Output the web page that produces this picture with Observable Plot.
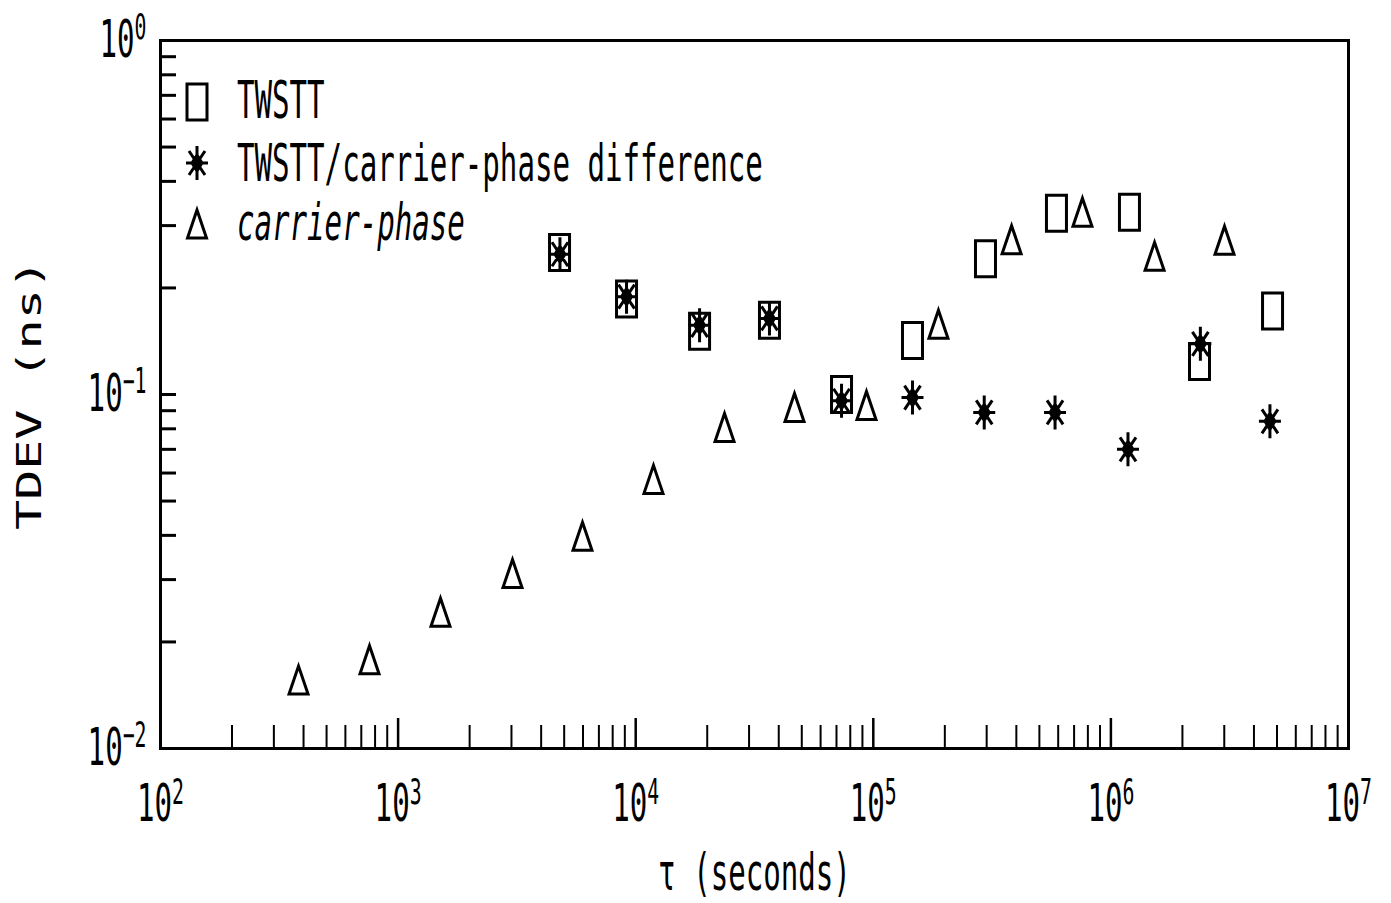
<!DOCTYPE html>
<html>
<head>
<meta charset="utf-8">
<script src="https://cdn.jsdelivr.net/npm/d3@7"></script>
<script src="https://cdn.jsdelivr.net/npm/@observablehq/plot@0.6"></script>
<style>
  html, body { margin: 0; padding: 0; background: #fff; }
  #chart { width: 1391px; height: 903px; }
</style>
</head>
<body>
<div id="chart"></div>
<script>
// ---- data (tau in seconds, TDEV in ns) ----
const seriesNames = ["TWSTT", "TWSTT/carrier-phase difference", "carrier-phase"];

const twsttTau  = [4780, 9150, 18570, 36560, 73500, 146200, 296600, 590000, 1197000, 2360000, 4790000];
const twsttTdev = [0.252, 0.186, 0.151, 0.162, 0.100, 0.142, 0.242, 0.325, 0.327, 0.124, 0.172];

const diffTau  = [4800, 9150, 18570, 36560, 73500, 146200, 293000, 582000, 1180000, 2380000, 4670000];
const diffTdev = [0.249, 0.189, 0.157, 0.164, 0.096, 0.098, 0.089, 0.089, 0.070, 0.139, 0.084];

const cpTau  = [381, 758, 1508, 3030, 5970, 11880, 23650, 46600, 93600, 188000, 382000, 759000, 1527000, 3007000];
const cpTdev = [0.0155, 0.0177, 0.0241, 0.0310, 0.0395, 0.0572, 0.0802, 0.0913, 0.0925, 0.157, 0.272, 0.325, 0.244, 0.271];

const xTickValues = [1e2, 1e3, 1e4, 1e5, 1e6, 1e7];
const xTickLabels = ["10²", "10³", "10⁴", "10⁵", "10⁶", "10⁷"];
const yTickValues = [1e-2, 1e-1, 1];
const yTickLabels = ["10⁻²", "10⁻¹", "10⁰"];
const xTitle = "τ (seconds)";
const yTitle = "TDEV (ns)";

// ---- derived tables ----
const table = (tau, tdev, series) => tau.map((t, i) => ({tau: t, tdev: tdev[i], series}));
const twstt = table(twsttTau, twsttTdev, seriesNames[0]);
const diff = table(diffTau, diffTdev, seriesNames[1]);
const cp = table(cpTau, cpTdev, seriesNames[2]);

const minorBetween = (majors) => majors.slice(0, -1).flatMap(m => [2,3,4,5,6,7,8,9].map(k => k * m));
const xMinor = minorBetween(xTickValues);
const yMinor = minorBetween(yTickValues).concat([1e-1]);
const xLabelOf = new Map(xTickValues.map((v, i) => [v, xTickLabels[i]]));
const yLabelOf = new Map(yTickValues.map((v, i) => [v, yTickLabels[i]]));

// ---- custom symbols (tall, like the plotter output) ----
const rectSymbol = {draw(c) { c.moveTo(-10, -18); c.lineTo(10, -18); c.lineTo(10, 18); c.lineTo(-10, 18); c.closePath(); }};
const triSymbol = {draw(c) { c.moveTo(0, -15); c.lineTo(9.5, 13); c.lineTo(-9.5, 13); c.closePath(); }};
const starSymbol = {draw(c) {
  c.moveTo(0, -17); c.lineTo(0, 17);
  c.moveTo(-11, 0); c.lineTo(11, 0);
  c.moveTo(-8, -12); c.lineTo(8, 12);
  c.moveTo(-8, 12); c.lineTo(8, -12);
  c.moveTo(0, -8); c.lineTo(5, 0); c.lineTo(0, 8); c.lineTo(-5, 0); c.closePath();
}};

const MONO = "'DejaVu Sans Mono', 'Liberation Mono', monospace";

const plot = Plot.plot({
  width: 1391,
  height: 903,
  marginTop: 40,
  marginRight: 43,
  marginBottom: 155,
  marginLeft: 160,
  style: {fontFamily: MONO, fontSize: "52px", color: "black", background: "white"},
  x: {type: "log", domain: [1e2, 1e7], label: null},
  y: {type: "log", domain: [1e-2, 1], label: null},
  marks: [
    Plot.axisX(xMinor, {anchor: "bottom", tickSize: -23, strokeWidth: 2, tickFormat: () => "", label: null}),
    Plot.axisX(xTickValues.slice(1, -1), {anchor: "bottom", tickSize: -30, strokeWidth: 2.5, tickFormat: () => "", label: null}),
    Plot.axisX(xTickValues, {anchor: "bottom", tickSize: 0, tickPadding: 36, tickFormat: d => xLabelOf.get(d),
      label: xTitle, labelAnchor: "center", labelOffset: 141, labelArrow: "none"}),
    Plot.axisY(yMinor, {anchor: "left", tickSize: -16, strokeWidth: 3, tickFormat: () => "", label: null}),
    Plot.axisY(yTickValues, {anchor: "left", tickSize: 0, tickPadding: 14, tickFormat: d => yLabelOf.get(d),
      label: yTitle, labelAnchor: "center", labelOffset: 144, labelArrow: "none"}),
    Plot.frame({stroke: "black", strokeWidth: 3}),
    Plot.dot(cp, {x: "tau", y: "tdev", symbol: triSymbol, stroke: "black", fill: "none", strokeWidth: 3}),
    Plot.dot(twstt, {x: "tau", y: "tdev", symbol: rectSymbol, stroke: "black", fill: "none", strokeWidth: 3}),
    Plot.dot(diff, {x: "tau", y: "tdev", symbol: starSymbol, stroke: "black", fill: "black", strokeWidth: 3})
  ]
});

// ---- condense text horizontally (plotter font look) ----
function condense(el, sx, sy) {
  const x = el.getAttribute("x");
  let t = el.getAttribute("transform") || "";
  if (x != null && !isNaN(+x)) { t += ` translate(${+x},0)`; el.removeAttribute("x"); }
  el.setAttribute("transform", `${t} scale(${sx},${sy})`);
}
// turn unicode superscripts into a larger raised tspan, like the reference
const SUP = {"⁰":"0","¹":"1","²":"2","³":"3","⁴":"4","⁵":"5","⁶":"6","⁷":"7","⁸":"8","⁹":"9","⁻":"−"};
function raiseSuperscript(el) {
  const s = el.textContent;
  const i = [...s].findIndex(ch => SUP[ch] !== undefined);
  if (i < 0) return;
  const chars = [...s];
  const base = chars.slice(0, i).join("");
  const sup = chars.slice(i).map(ch => SUP[ch] ?? ch).join("");
  const sel = d3.select(el);
  sel.text(null);
  sel.append("tspan").text(base);
  sel.append("tspan").attr("font-size", "0.68em").attr("dy", "-0.5em").text(sup);
}
const svg = d3.select(plot.tagName.toLowerCase() === "svg" ? plot : plot.querySelector("svg"));
svg.selectAll('g[aria-label="x-axis tick label"] text, g[aria-label="y-axis tick label"] text')
  .each(function() { raiseSuperscript(this); });
svg.selectAll('g[aria-label="x-axis tick label"] text, g[aria-label="y-axis tick label"] text, g[aria-label="x-axis label"] text')
  .each(function() { condense(this, 0.56, 1); });
svg.selectAll('g[aria-label="y-axis label"] text')
  .attr("font-size", 34)
  .each(function() { condense(this, 1.47, 1); });

// ---- legend inside the frame, upper left ----
const legendRows = [
  {name: seriesNames[0], sym: rectSymbol, fill: "none", sy: 102, ty: 118, italic: false},
  {name: seriesNames[1], sym: starSymbol, fill: "black", sy: 163, ty: 181, italic: false},
  {name: seriesNames[2], sym: triSymbol, fill: "none", sy: 225, ty: 240, italic: true}
];
const lg = svg.append("g").attr("aria-label", "legend");
legendRows.forEach(r => {
  const p = d3.path(); r.sym.draw(p, 0);
  lg.append("path").attr("d", p.toString()).attr("transform", `translate(197,${r.sy})`)
    .attr("fill", r.fill).attr("stroke", "black").attr("stroke-width", 3);
  lg.append("text").text(r.name)
    .attr("transform", `translate(237,${r.ty}) scale(0.56,1)`)
    .attr("text-anchor", "start")
    .attr("font-family", MONO).attr("font-size", 52)
    .attr("font-style", r.italic ? "italic" : null)
    .attr("fill", "black");
});

document.getElementById("chart").appendChild(plot);
</script>
</body>
</html>
